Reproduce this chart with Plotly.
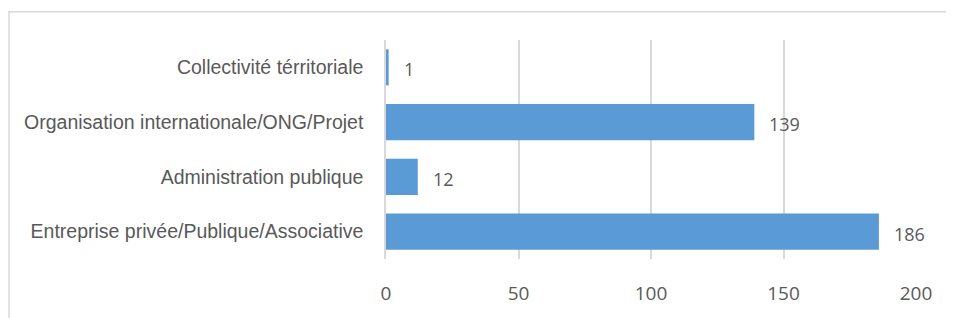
import plotly.graph_objects as go

categories = [
    "Entreprise privée/Publique/Associative",
    "Administration publique",
    "Organisation internationale/ONG/Projet",
    "Collectivité térritoriale",
]
values = [186, 12, 139, 1]
x_ticks = [0, 50, 100, 150, 200]

BAR = "#5B9BD5"
GRID = "#D9D9D9"
TXT = "#595959"
LABEL_FONT = "Liberation Sans, Arial, sans-serif"
NUM_FONT = "Open Sans, Carlito, Calibri, sans-serif"

fig = go.Figure()
fig.add_trace(go.Bar(
    y=categories, x=values, orientation="h",
    marker=dict(color=BAR, line=dict(width=0)),
    hoverinfo="skip",
))
for c, v in zip(categories, values):
    fig.add_annotation(x=v, y=c, text=str(v), showarrow=False,
                       xanchor="left", yanchor="middle", xshift=13, yshift=-2,
                       font=dict(family=NUM_FONT, size=18, color=TXT))

# page body has an 8px margin; size the figure to fit the 954x318 window
OFF = 8
W, H = 954 - OFF, 318 - OFF
L, R, T, B = 386 - OFF, 38, 40 - OFF, 53
pw, ph = W - L - R, H - T - B
fig.add_shape(type="rect", xref="paper", yref="paper",
              x0=(1 - L) / pw, x1=(W + 20 - L) / pw,
              y0=(H - B - 330) / ph, y1=1 + (T - (11 - OFF)) / ph,
              line=dict(color=GRID, width=1.5), fillcolor="rgba(0,0,0,0)", layer="below")

fig.update_layout(
    width=W, height=H,
    margin=dict(l=L, r=R, t=T, b=B, pad=0),
    paper_bgcolor="white", plot_bgcolor="white",
    bargap=0.34, showlegend=False,
    xaxis=dict(range=[0, 200], tickvals=x_ticks, showgrid=True, gridcolor=GRID, gridwidth=1.5,
               zeroline=False, showline=False, ticks="", ticklabelstandoff=21,
               tickfont=dict(family=NUM_FONT, size=19, color=TXT), fixedrange=True),
    yaxis=dict(showgrid=False, zeroline=False, showline=True, linecolor=GRID, linewidth=1.5,
               ticks="", ticklabelstandoff=17,
               tickfont=dict(family=LABEL_FONT, size=19.5, color=TXT), fixedrange=True),
)
fig.write_html("out.html")
